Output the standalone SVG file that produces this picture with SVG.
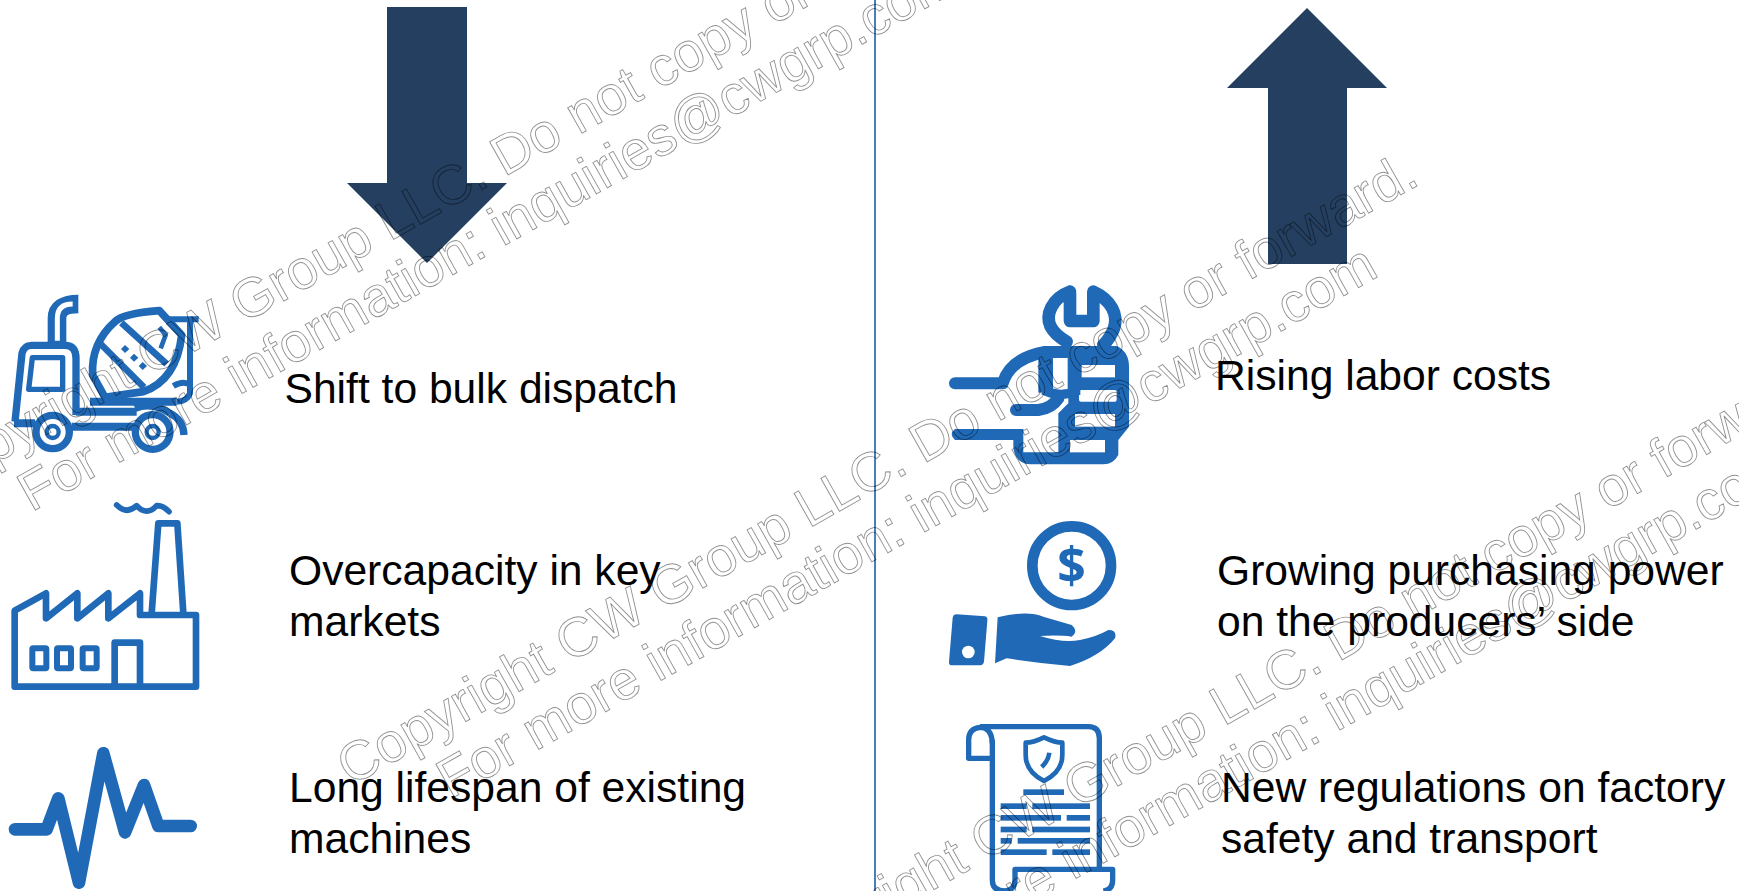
<svg xmlns="http://www.w3.org/2000/svg" width="1739" height="891" viewBox="0 0 1739 891">
<style>
.lbl{font-family:"Liberation Sans",Arial,sans-serif;font-size:42.6px;fill:#000}
.wm{font-family:"Liberation Sans",Arial,sans-serif;font-size:55px;fill:none;stroke:#000;stroke-opacity:.45;stroke-width:.9;text-anchor:middle}
.arrow{fill:#243f5f}
.s{fill:none;stroke:#1f69b7;stroke-linejoin:round}
.f{fill:#1f69b7}
.w{fill:#fff}
</style>
<rect width="1739" height="891" fill="#fff"/>
<g id="connectors"><line x1="875" y1="0" x2="875" y2="891" stroke="#4a7ebb" stroke-width="2"/></g>
<g id="arrow-down"><polygon class="arrow" points="387,7 467,7 467,183 507,183 427,263 347,183 387,183"/></g>
<g id="arrow-up"><polygon class="arrow" points="1307,8 1387,88 1347,88 1347,264 1268,264 1268,88 1227,88"/></g>
<g id="icon-truck" transform="translate(0,280) scale(.33333)">
<path class="s" stroke-width="56" d="M171 196V115Q171 72 235 72"/><path stroke="#fff" fill="none" stroke-width="15" d="M172 182V115Q172 72 218 72"/>
<path class="s" stroke-width="22" d="M45 425L66 220Q72 196 95 196H195Q228 196 228 235V405"/>
<path class="s" stroke-width="16" d="M97 233H188V328H86Z"/>
<path class="s" stroke-width="24" d="M42 430H105M215 440H405M228 395H410M270 365H530"/>
<circle class="s" cx="158" cy="456" r="50" stroke-width="22"/><circle class="s" cx="158" cy="456" r="18" stroke-width="13"/>
<circle class="s" cx="458" cy="456" r="52" stroke-width="22"/><circle class="s" cx="458" cy="456" r="18" stroke-width="13"/>
<path class="s" stroke-width="22" d="M510 400Q550 420 552 465M405 385Q458 365 510 400"/>
<path class="s" stroke-width="23" d="M278 285Q272 190 345 125Q370 100 478 92L545 165Q530 300 430 335L315 352Z"/>
<path class="s" stroke-width="20" d="M364 128L500 252M296 186L432 322"/>
<g class="f"><polygon points="375,195 388,207 375,219 363,207"/><polygon points="402,221 415,233 402,245 390,233"/><polygon points="428,246 441,258 428,270 416,258"/></g>
<path class="s" stroke-width="14" d="M478 142L497 165L482 205"/>
<path class="s" stroke-width="18" d="M495 118H596M570 120V340Q560 365 530 365M572 315Q550 300 520 318"/>
</g>
<g id="icon-factory" transform="translate(0,490) scale(.33333)">
<path class="s" stroke-width="20" d="M44 590V362L138 310V385L232 310V385L325 310V385L420 310V375H588V590Z"/>
<path class="s" stroke-width="20" d="M455 370L475 100H532L550 370M344 590V458H420V590"/>
<g class="s" stroke-width="18"><rect x="97" y="475" width="42" height="60" rx="3"/><rect x="171" y="475" width="42" height="60" rx="3"/><rect x="248" y="475" width="42" height="60" rx="3"/></g>
<path class="s" stroke-width="17" stroke-linecap="round" d="M350 45Q380 75 410 47Q440 80 470 47Q488 45 507 65"/>
</g>
<g id="icon-pulse" transform="translate(0,490) scale(.33333)">
<path class="s" stroke-width="38" stroke-linecap="round" d="M45 1018H140L175 925L237 1178L310 790L375 1027L432 885L475 1008H572"/>
</g>
<g id="icon-wrench" transform="translate(930,270) scale(.33333)">
<path class="s" stroke-width="38" stroke-linecap="round" d="M420 65C365 85 345 135 362 170Q375 195 410 215M420 65V153H490V65C545 90 565 135 552 175Q540 205 520 225"/>
<path class="f" d="M415 228H560Q597 245 597 290V470L565 510V555Q550 583 520 583H300Q255 580 250 530V510H75Q55 492 75 477H280V547H385V430L415 400Z"/>
<g class="w"><rect x="455" y="285" width="100" height="37"/><rect x="447" y="360" width="113" height="35" rx="6"/><rect x="435" y="432" width="120" height="38"/><rect x="420" y="510" width="105" height="37"/></g>
<path class="s" stroke-width="36" stroke-linecap="round" d="M75 340H218Q240 265 345 246H430"/>
<path class="s" stroke-width="44" d="M347 250V368"/>
<path class="s" stroke-width="38" d="M432 250V375"/>
<path class="s" stroke-width="28" d="M340 360Q390 385 440 362"/>
<path class="s" stroke-width="36" stroke-linecap="round" d="M258 420H325Q365 415 385 385"/>
</g>
<g id="icon-coin" transform="translate(930,500) scale(.33333)">
<circle class="s" cx="425" cy="197" r="118" stroke-width="32"/>
<text x="425" y="250" text-anchor="middle" font-family="'Open Sans','Liberation Sans',sans-serif" font-weight="700" font-size="150" fill="#1f69b7">$</text>
<path class="f" d="M80 343L165 349Q174 351 172 362L162 485Q160 496 148 496H66Q56 496 57 485L68 353Q70 343 80 343Z"/>
<circle class="w" cx="115" cy="456" r="19"/>
<path class="f" d="M203 352Q290 330 340 350L425 375Q447 393 425 410Q390 405 330 408Q400 430 450 420Q500 410 535 390Q562 390 555 415Q510 470 420 498Q330 490 230 475L195 490Z"/>
</g>
<g id="icon-document" transform="translate(930,700) scale(.33333)">
<path class="s" stroke-width="16" d="M150 80H475Q508 80 508 115V510M187 120V540Q187 573 225 573Q255 570 255 540V508H548V540Q548 570 520 573"/>
<path class="s" stroke-width="16" d="M187 130Q185 82 150 82Q116 85 116 120V175H187"/>
<path class="s" stroke-width="14" d="M342 112Q375 128 397 128V165Q397 215 342 243Q287 215 287 165V128Q310 128 342 112Z"/>
<path class="s" stroke-width="14" d="M358 158Q355 182 335 201"/>
<g class="f"><rect x="280" y="268" width="122" height="17"/><rect x="212" y="310" width="78" height="17"/><rect x="307" y="310" width="173" height="17"/><rect x="212" y="345" width="181" height="17"/><rect x="410" y="345" width="70" height="17"/><rect x="212" y="380" width="78" height="17"/><rect x="307" y="380" width="173" height="17"/><rect x="212" y="414" width="33" height="17"/><rect x="263" y="414" width="217" height="17"/><rect x="212" y="448" width="138" height="17"/><rect x="367" y="448" width="113" height="17"/></g>
</g>
<g id="label-bulk"><text class="lbl" x="284.500" y="403">Shift to bulk dispatch</text></g>
<g id="label-overcapacity"><text class="lbl" x="289" y="585">Overcapacity in key</text><text class="lbl" x="289" y="636">markets</text></g>
<g id="label-lifespan"><text class="lbl" x="289" y="801.500">Long lifespan of existing</text><text class="lbl" x="289" y="852.500">machines</text></g>
<g id="label-labor"><text class="lbl" x="1215" y="390">Rising labor costs</text></g>
<g id="label-purchasing"><text class="lbl" x="1217" y="585">Growing purchasing power</text><text class="lbl" x="1217" y="636">on the producers’ side</text></g>
<g id="label-regulations"><text class="lbl" x="1221" y="801.500">New regulations on factory</text><text class="lbl" x="1221" y="852.500">safety and transport</text></g>
<g id="watermark-1" transform="translate(467,198) rotate(-29.400)"><text class="wm" y="0">Copyright CW Group LLC. Do not copy or forward.</text><text class="wm" y="60">For more information: inquiries@cwgrp.com</text></g>
<g id="watermark-2" transform="translate(886,485) rotate(-29.400)"><text class="wm" y="0">Copyright CW Group LLC. Do not copy or forward.</text><text class="wm" y="60">For more information: inquiries@cwgrp.com</text></g>
<g id="watermark-3" transform="translate(1301,683) rotate(-29.400)"><text class="wm" y="0">Copyright CW Group LLC. Do not copy or forward.</text><text class="wm" y="60">For more information: inquiries@cwgrp.com</text></g>
</svg>
